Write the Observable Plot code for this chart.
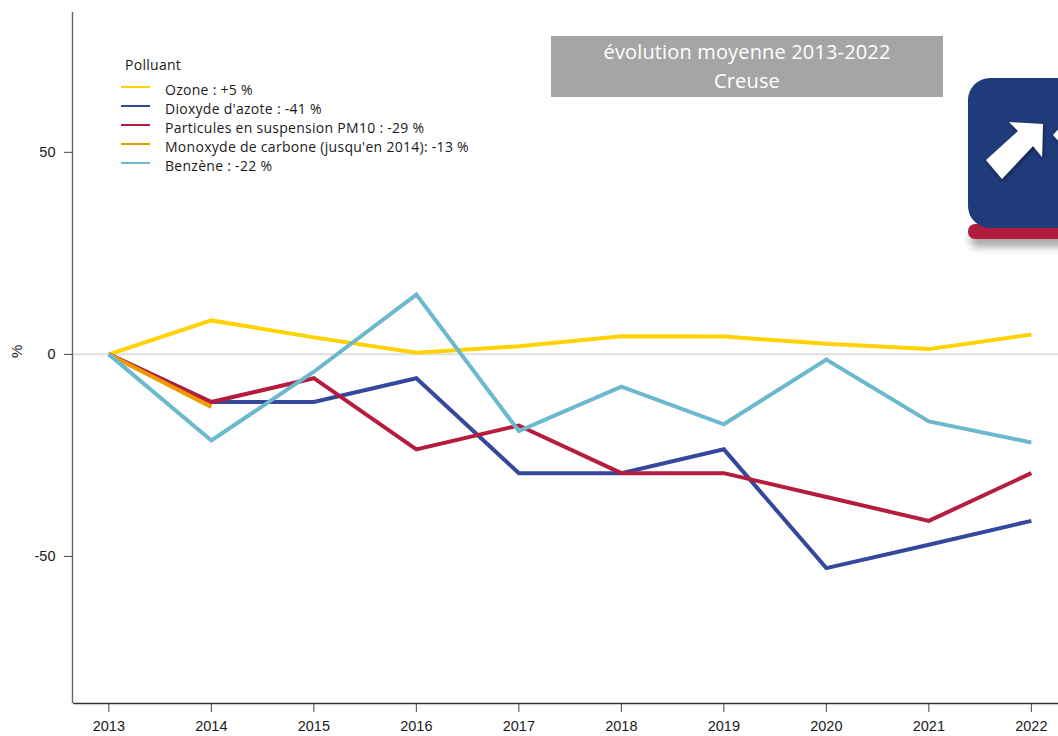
<!DOCTYPE html>
<html><head><meta charset="utf-8">
<script src="https://cdn.jsdelivr.net/npm/d3@7"></script>
<script src="https://cdn.jsdelivr.net/npm/@observablehq/plot@0.6"></script>
<style>
html,body{margin:0;padding:0;background:#fff;overflow:hidden}
#wrap{position:relative;width:1058px;height:736px;overflow:hidden}
#wrap svg.plot{position:absolute;left:0;top:0}
.ui{font-family:"Open Sans","Noto Sans",sans-serif;position:absolute}
#legend{left:125px;top:55px;font-size:14px;letter-spacing:.28px;color:#1a1a1a;line-height:19px}
#legend .t{margin-bottom:5.5px;height:19px}
#legend .r{position:relative;padding-left:40px;white-space:nowrap;height:19px}
#legend .r i{position:absolute;left:-4px;top:6.5px;width:29px;height:2px}
#banner{left:551px;top:36px;width:392px;height:61px;background:#a5a5a5;color:#fff;font-size:20px;letter-spacing:.15px;line-height:28.5px;text-align:center;padding-top:2px;box-sizing:border-box}
#icon{left:968px;top:78px;width:120px;height:150px;background:#1f3b7a;border-radius:22px}
#bar{left:968px;top:224px;width:120px;height:14.5px;background:#b01c3d;border-radius:7px;box-shadow:2px 8px 8px rgba(0,0,0,.35)}
#arrows{position:absolute;left:968px;top:78px}
</style></head>
<body><div id="wrap"></div>
<script>
const years = [2013,2014,2015,2016,2017,2018,2019,2020,2021,2022];
const ozone = [0,8.4,4.2,0.4,2.0,4.5,4.4,2.6,1.3,4.9];
const no2 = [0,-11.8,-11.8,-5.9,-29.4,-29.4,-23.5,-52.9,-47.1,-41.2];
const pm10 = [0,-11.8,-5.9,-23.5,-17.6,-29.4,-29.4,-35.3,-41.2,-29.4];
const co = [0,-13];
const benzene = [0,-21.3,-4.3,14.8,-19,-8,-17.3,-1.3,-16.6,-21.8];
const seriesNames = ["Ozone : +5 %","Dioxyde d'azote : -41 %","Particules en suspension PM10 : -29 %","Monoxyde de carbone (jusqu'en 2014): -13 %","Benzène : -22 %"];
const seriesColors = ["#ffd200","#36489c","#b51c3e","#f09a00","#6bb8cf"];
const seriesValues = [ozone,no2,pm10,co,benzene];
const rows = seriesValues.flatMap((vals,i)=>vals.map((v,j)=>({year:years[j],value:v,name:seriesNames[i]})));

const plot = Plot.plot({
  width:1058,height:736,marginLeft:73,marginRight:0,marginTop:12,marginBottom:33,
  style:{fontFamily:'"Liberation Sans",Arial,sans-serif',fontSize:"14.5px",color:"#1a1a1a",background:"#fff"},
  x:{domain:[2012.655,2022.265],label:null},
  y:{domain:[-86.4,84.6],label:null},
  color:{domain:seriesNames,range:seriesColors},
  marks:[
    Plot.ruleY([0],{stroke:"#dedede",strokeWidth:2}),
    Plot.line(rows,{x:"year",y:"value",z:"name",stroke:"name",strokeWidth:4,strokeLinejoin:"miter",strokeLinecap:"butt",strokeMiterlimit:3,curve:"linear"}),
    Plot.axisX({ticks:years,tickFormat:d=>String(d),tickSize:9,tickPadding:8,label:null,stroke:"#444",fontSize:14.5}),
    Plot.axisY({ticks:[-50,0,50],tickFormat:d=>String(d),tickSize:9,tickPadding:9,label:null,stroke:"#444",fontSize:14.5}),
    Plot.ruleX([2012.655],{stroke:"#666",strokeWidth:1.4,dx:-1}),
    Plot.ruleY([-86.4],{stroke:"#333",strokeWidth:1.3}),
    Plot.text(["%"],{frameAnchor:"left",dx:-56,rotate:-90,fontSize:15})
  ]
});
const wrap=document.getElementById("wrap");
wrap.appendChild(plot);

const leg=document.createElement("div");leg.id="legend";leg.className="ui";
leg.innerHTML='<div class="t">Polluant</div>'+seriesNames.map((n,i)=>`<div class="r"><i style="background:${seriesColors[i]}"></i>${n}</div>`).join("");
wrap.appendChild(leg);
const ban=document.createElement("div");ban.id="banner";ban.className="ui";ban.innerHTML="évolution moyenne 2013-2022<br>Creuse";wrap.appendChild(ban);
const bar=document.createElement("div");bar.id="bar";bar.className="ui";wrap.appendChild(bar);
const ic=document.createElement("div");ic.id="icon";ic.className="ui";wrap.appendChild(ic);
const ns="http://www.w3.org/2000/svg";
const s=document.createElementNS(ns,"svg");s.id="arrows";s.setAttribute("width","120");s.setAttribute("height","150");
s.innerHTML='<defs><filter id="sh" x="-30%" y="-30%" width="160%" height="160%"><feDropShadow dx="1" dy="2" stdDeviation="2" flood-color="#000" flood-opacity=".45"/></filter></defs>'+
 '<path filter="url(#sh)" fill="#fff" d="M18 82 L50 53 L41 44 L75 46 L74 79 L65 68 L34 101 Z"/>'+
 '<path filter="url(#sh)" fill="#fff" d="M85 57 L95 46 L95 68 Z"/>';
wrap.appendChild(s);
</script></body></html>
